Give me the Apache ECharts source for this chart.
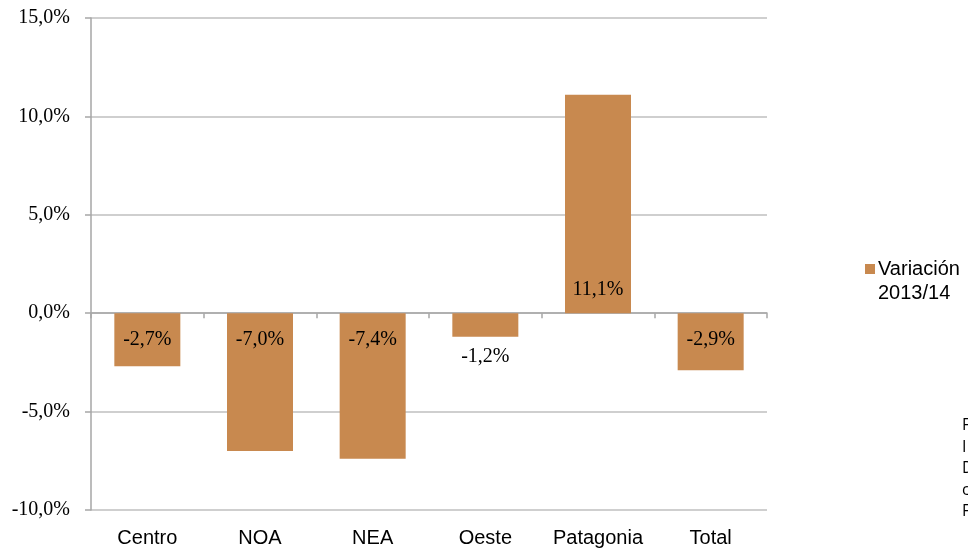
<!DOCTYPE html>
<html>
<head>
<meta charset="utf-8">
<script src="https://cdn.jsdelivr.net/npm/echarts@6/dist/echarts.min.js"></script>
<style>
html,body{margin:0;padding:0;background:#fff;}
#c{width:968px;height:548px;}
</style>
</head>
<body>
<div id="c"></div>
<script>
const categories = ['Centro', 'NOA', 'NEA', 'Oeste', 'Patagonia', 'Total'];
const values = [-2.7, -7.0, -7.4, -1.2, 11.1, -2.9];
const seriesName = 'Variación\n2013/14';
const yMin = -10, yMax = 15, yStep = 5;
const sideNote = ['F', 'I', 'D', 'c', 'F'];

const fmt = v => v.toFixed(1).replace('.', ',') + '%';
const barColor = '#C8894F';

const data = values.map((v, i) => {
  let label;
  if (categories[i] === 'Oeste') label = { position: 'bottom', distance: 10 };
  else if (v >= 0) label = { position: 'insideBottom', distance: 13 };
  else label = { position: 'insideTop', distance: 17 };
  return { value: v, label };
});

const chart = echarts.init(document.getElementById('c'));
chart.setOption({
  animation: false,
  backgroundColor: '#fff',
  grid: { left: 91, right: 201, top: 18, bottom: 37.5, containLabel: false },
  legend: {
    data: [seriesName],
    orient: 'vertical',
    left: 860, top: 228,
    itemWidth: 10, itemHeight: 10, itemGap: 4,
    icon: 'rect',
    formatter: name => ' \n' + name,
    textStyle: { fontFamily: 'Liberation Sans, Arial', fontSize: 20, color: '#000', lineHeight: 24, padding: [0,0,0,-2] }
  },
  xAxis: [
    {
      type: 'category', data: categories,
      axisLine: { onZero: true, lineStyle: { color: '#A6A6A6', width: 1.5 } },
      axisTick: { show: true, length: 5, lineStyle: { color: '#A6A6A6', width: 1.5 } },
      axisLabel: { show: false }
    },
    {
      type: 'category', data: categories, position: 'bottom',
      axisLine: { show: false, onZero: false },
      axisTick: { show: false },
      axisLabel: { interval: 0, margin: 18, fontFamily: 'Liberation Sans, Arial', fontSize: 20, color: '#000' }
    }
  ],
  yAxis: {
    type: 'value', min: yMin, max: yMax, interval: yStep,
    axisLine: { show: true, lineStyle: { color: '#A6A6A6', width: 1.5 } },
    axisTick: { show: true, length: 6, lineStyle: { color: '#A6A6A6', width: 1.5 } },
    splitLine: { lineStyle: { color: '#BFBFBF', width: 1.5 } },
    axisLabel: { formatter: fmt, margin: 21, fontFamily: 'Liberation Serif, Times New Roman', fontSize: 20, color: '#000' }
  },
  series: [{
    name: seriesName,
    type: 'bar',
    xAxisIndex: 0,
    barWidth: 66,
    data: data,
    itemStyle: { color: barColor },
    label: {
      show: true,
      formatter: p => fmt(p.value),
      fontFamily: 'Liberation Serif, Times New Roman',
      fontSize: 20, color: '#000'
    }
  }],
  graphic: [{
    type: 'text', left: 962, top: 415,
    style: { text: sideNote.join('\n'), fontFamily: 'Open Sans, Liberation Sans', fontSize: 16, lineHeight: 21.5, fill: '#000' }
  }]
});
</script>
</body>
</html>
